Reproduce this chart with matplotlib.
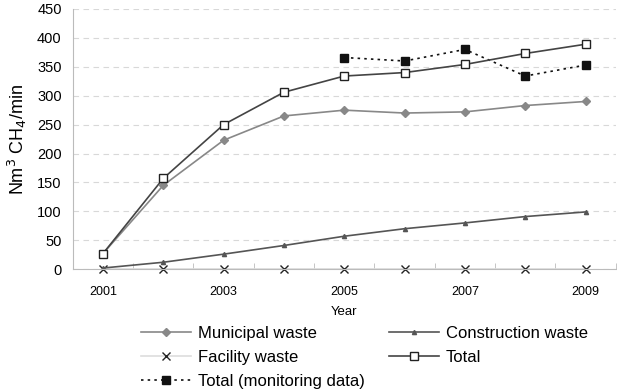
import matplotlib
matplotlib.use('Agg')
import matplotlib.pyplot as plt
import numpy as np

plt.rcParams['font.family'] = ['Liberation Sans', 'DejaVu Sans']

years = [2001, 2002, 2003, 2004, 2005, 2006, 2007, 2008, 2009]
municipal = [27, 145, 223, 265, 275, 270, 272, 283, 290]
construction = [2, 12, 26, 41, 57, 70, 80, 91, 99]
facility = [1, 1, 1, 1, 1, 1, 1, 1, 1]
total = [27, 157, 250, 306, 334, 340, 354, 373, 389]
mon_years = [2005, 2006, 2007, 2008, 2009]
monitoring = [366, 360, 380, 334, 353]

fig = plt.figure(figsize=(6.17, 3.89), dpi=100)
ax = fig.add_axes([0.118, 0.308, 0.88, 0.669])

ax.plot(years, municipal, color='#888888', lw=1.2, marker='D', ms=4,
        mfc='#888888', mec='#888888', label='Municipal waste')
ax.plot(years, facility, color='#dddddd', lw=1.2, marker='x', ms=5.5,
        mec='#222222', mew=1.0, label='Facility waste', clip_on=False)
ax.plot(mon_years, monitoring, color='#111111', lw=1.2, ls=(0, (1.5, 2.5)),
        marker='s', ms=5.5, mfc='#111111', mec='#111111',
        label='Total (monitoring data)')
ax.plot(years, construction, color='#555555', lw=1.2, marker='^', ms=3,
        mfc='#555555', mec='#555555', label='Construction waste')
ax.plot(years, total, color='#444444', lw=1.2, marker='s', ms=5.5,
        mfc='white', mec='#222222', mew=1.0, label='Total')

ax.set_xlim(2000.5, 2009.5)
ax.set_ylim(0, 450)
ax.set_yticks(np.arange(0, 451, 50))
ax.set_xticks([2001, 2003, 2005, 2007, 2009])
ax.set_xticks(np.arange(2000.5, 2009.6, 1), minor=True)
ax.tick_params(axis='x', which='major', length=0, labelsize=9, pad=12)
ax.tick_params(axis='x', which='minor', direction='in', length=4, color='#bbbbbb')
ax.tick_params(axis='y', length=0, labelsize=10.5, pad=8)
ax.yaxis.grid(True, ls=(0, (5, 4)), color='#d8d8d8', lw=0.8)
ax.set_axisbelow(True)
for s in ['top', 'right']:
    ax.spines[s].set_visible(False)
ax.spines['left'].set_color('#bbbbbb')
ax.spines['bottom'].set_color('#bbbbbb')

ax.set_xlabel('Year', fontsize=9.5, labelpad=6)
ax.set_ylabel('Nm$^3$ CH$_4$/min', fontsize=13, labelpad=6)

ax.legend(loc='upper left', bbox_to_anchor=(0.11, -0.185), ncol=2, frameon=False,
          fontsize=12, handlelength=3.0, labelspacing=0.55, columnspacing=1.5,
          handletextpad=0.4, borderpad=0)

fig.savefig('out.png', dpi=100, facecolor='white')
